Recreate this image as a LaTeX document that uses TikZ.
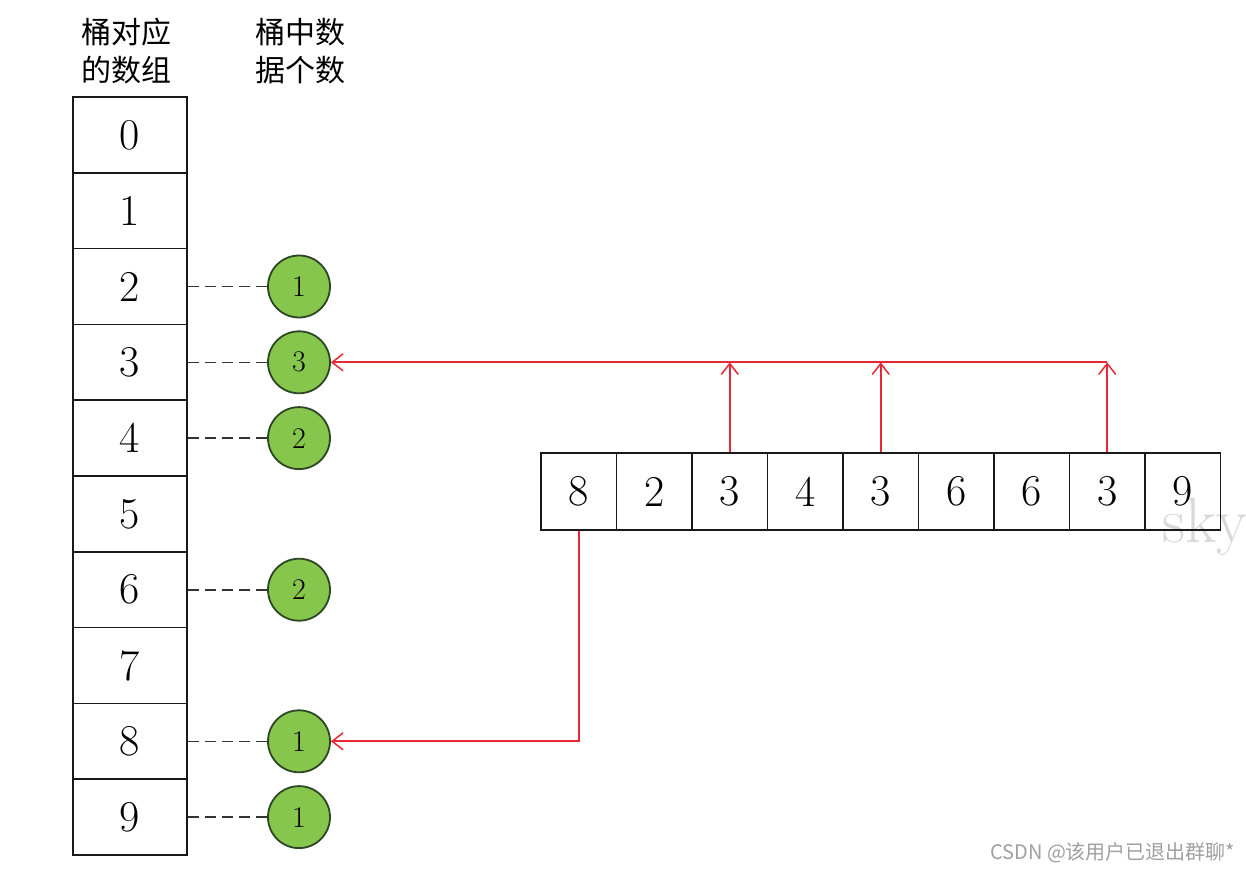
\documentclass[tikz,border=0pt]{standalone}
\usepackage{fontspec}
\newfontfamily\cjk{Noto Sans CJK SC}
\usetikzlibrary{arrows.meta}
\definecolor{cellgreen}{RGB}{134,198,76}
\definecolor{circborder}{RGB}{45,70,35}
\definecolor{arrred}{RGB}{232,40,52}
\definecolor{wmgray}{RGB}{160,160,160}
\begin{document}
\begin{tikzpicture}[x=1pt,y=-1pt,
  cell/.style={draw=black!90, line width=1.7pt, minimum width=114pt, minimum height=75.8pt, inner sep=0pt, font=\fontsize{44}{50}\selectfont},
  acell/.style={draw=black!90, line width=1.7pt, minimum width=75.5pt, minimum height=77pt, inner sep=0pt, font=\fontsize{44}{50}\selectfont},
  cnt/.style={circle, draw=circborder, line width=1.8pt, fill=cellgreen, minimum size=62pt, inner sep=0pt, font=\fontsize{30}{34}\selectfont},
  hdr/.style={align=center, font=\cjk\fontsize{30}{38}\selectfont},
  link/.style={dashed, dash pattern=on 11pt off 6pt, line width=1.6pt, draw=black!80},
  redarrow/.style={draw=arrred, line width=1.7pt, -{Straight Barb[length=11pt, width=17pt, line width=1.5pt]}}
]
\clip (0,0) rectangle (1246,872);
\fill[white] (0,0) rectangle (1246,872);
% watermark behind
\node[anchor=base west, inner sep=0pt, text=black!15, font=\fontsize{64}{68}\selectfont] (sky) at (1162,542) {sky};
% headers
\node[hdr] (h1) at (126,51) {桶对应\\的数组};
\node[hdr] (h2) at (300,51) {桶中数\\据个数};
% bucket array
\foreach \i in {0,...,9} {
  \node[cell] (b\i) at (130,{97+75.8*(\i+0.5)}) {\i};
}
% counts
\foreach \i/\n in {2/1,3/3,4/2,6/2,8/1,9/1} {
  \node[cnt] (c\i) at (299,{97+75.8*(\i+0.5)}) {\n};
  \draw[link] (b\i.east) -- (c\i.west);
}
% input array
\foreach \v [count=\k from 0] in {8,2,3,4,3,6,6,3,9} {
  \node[acell] (a\k) at ({541+75.5*(\k+0.5)},491.5) {\v};
}
% red arrows
\draw[redarrow] (a2.north) -- (a2.north |- c3.center);
\draw[redarrow] (a4.north) -- (a4.north |- c3.center);
\draw[redarrow] (a7.north) -- (a7.north |- c3.center);
\coordinate (r3) at (a7.north |- c3.center);
\draw[redarrow] (r3) -- (c3.east);
\draw[redarrow] (a0.south) |- (c8.east);
% csdn watermark
\node[anchor=base west, inner sep=0pt, text=wmgray, font=\cjk\fontsize{20}{24}\selectfont] (csdn) at (990,859) {CSDN @该用户已退出群聊*};
\end{tikzpicture}
\end{document}
